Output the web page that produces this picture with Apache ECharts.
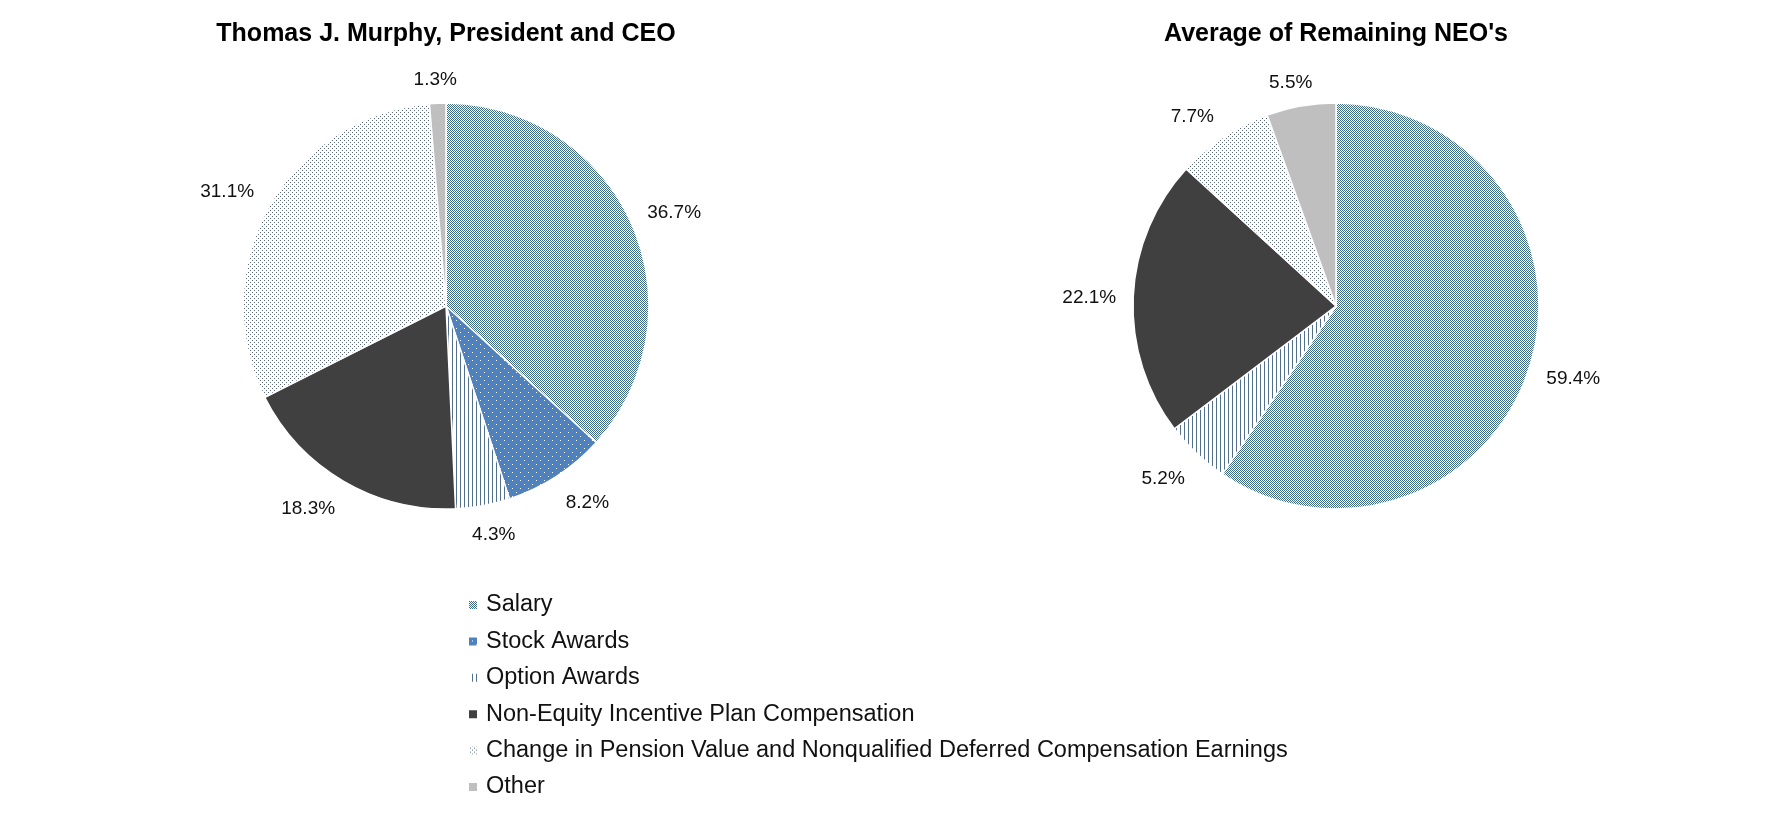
<!DOCTYPE html>
<html>
<head>
<meta charset="utf-8">
<script src="https://cdn.jsdelivr.net/npm/echarts@6/dist/echarts.min.js"></script>
<style>
html,body{margin:0;padding:0;background:#fff;}
#main{width:1782px;height:816px;}
</style>
</head>
<body>
<div id="main"></div>
<script>
// ---- data ----
const categories = ['Salary', 'Stock Awards', 'Option Awards', 'Non-Equity Incentive Plan Compensation', 'Change in Pension Value and Nonqualified Deferred Compensation Earnings', 'Other'];
const ceoTitle = 'Thomas J. Murphy, President and CEO';
const neoTitle = "Average of Remaining NEO's";
const ceoValues = [36.7, 8.2, 4.3, 18.3, 31.1, 1.3];
const neoValues = [59.4, 0, 5.2, 22.1, 7.7, 5.5];

// ---- patterns (style only) ----
function makePattern(w, h, bg, fg, pixels) {
  const c = document.createElement('canvas');
  c.width = w; c.height = h;
  const ctx = c.getContext('2d');
  ctx.fillStyle = bg; ctx.fillRect(0, 0, w, h);
  ctx.fillStyle = fg;
  pixels.forEach(p => ctx.fillRect(p[0], p[1], p[2] || 1, p[3] || 1));
  return { image: c, repeat: 'repeat' };
}
const fills = [
  makePattern(2, 2, '#ffffff', '#3d6b8a', [[0,0],[1,1]]),
  makePattern(8, 8, '#4f81bd', '#ffffff', [[0,0],[4,4]]),
  makePattern(4, 1, '#ffffff', '#52708c', [[0,0]]),
  '#404040',
  makePattern(4, 4, '#ffffff', '#5b6b7b', [[0,0],[2,2]]),
  '#bfbfbf'
];

const chart = echarts.init(document.getElementById('main'), null, {renderer: 'canvas'});

function buildData(values) {
  return values.map((v, i) => {
    const item = { name: categories[i], value: v, itemStyle: { color: fills[i] } };
    if (v === 0) {
      item.label = { show: false };
      item.labelLine = { show: false };
      item.itemStyle.borderWidth = 0;
    }
    return item;
  });
}

function clamp(v) { return Math.max(-1, Math.min(1, v)); }

// place each label just outside the slice end, on the slice's mid-angle
function labelLayout(params) {
  const pts = params.labelLinePoints;
  if (!pts || pts.length < 2) return {};
  const p0 = pts[0], p1 = pts[1];
  const dx = p1[0] - p0[0], dy = p1[1] - p0[1];
  const len = Math.hypot(dx, dy) || 1;
  const ux = dx / len, uy = dy / len;
  const w = params.labelRect.width, h = params.labelRect.height;
  const gap = 17;
  const x = p0[0] + ux * gap + clamp(2 * ux) * w / 2;
  const y = p0[1] + uy * gap + clamp(2 * uy) * h / 2 + 3;
  return { x: x, y: y, align: 'center', verticalAlign: 'middle' };
}

function pieSeries(values, center) {
  return {
    type: 'pie',
    center: center,
    radius: 203,
    startAngle: 90,
    clockwise: true,
    avoidLabelOverlap: false,
    animation: false,
    silent: true,
    data: buildData(values),
    itemStyle: { borderColor: '#ffffff', borderWidth: 1.5 },
    label: {
      show: true,
      position: 'outside',
      formatter: p => p.value.toFixed(1) + '%',
      fontFamily: 'Liberation Sans, Arial, sans-serif',
      fontSize: 19,
      color: '#111111'
    },
    labelLine: { show: true, length: 10, length2: 0, lineStyle: { opacity: 0 } },
    labelLayout: labelLayout
  };
}

const option = {
  backgroundColor: '#ffffff',
  animation: false,
  title: [
    { text: ceoTitle, left: 446, top: 22, textAlign: 'center', padding: 0,
      textStyle: { fontFamily: 'Liberation Sans, Arial, sans-serif', fontWeight: 'bold', fontSize: 25, color: '#000' } },
    { text: neoTitle, left: 1336, top: 22, textAlign: 'center', padding: 0,
      textStyle: { fontFamily: 'Liberation Sans, Arial, sans-serif', fontWeight: 'bold', fontSize: 25, color: '#000' } }
  ],
  legend: {
    orient: 'vertical',
    left: 467,
    top: 593,
    padding: 0,
    itemWidth: 10,
    itemHeight: 10,
    itemGap: 12.4,
    icon: 'rect',
    selectedMode: false,
    data: categories,
    textStyle: { fontFamily: 'Liberation Sans, Arial, sans-serif', fontSize: 23.5, lineHeight: 23.5, color: '#111', padding: [0, 0, 0, 3] }
  },
  series: [
    pieSeries(ceoValues, [446, 306]),
    pieSeries(neoValues, [1336, 306])
  ]
};
chart.setOption(option);
</script>
</body>
</html>
